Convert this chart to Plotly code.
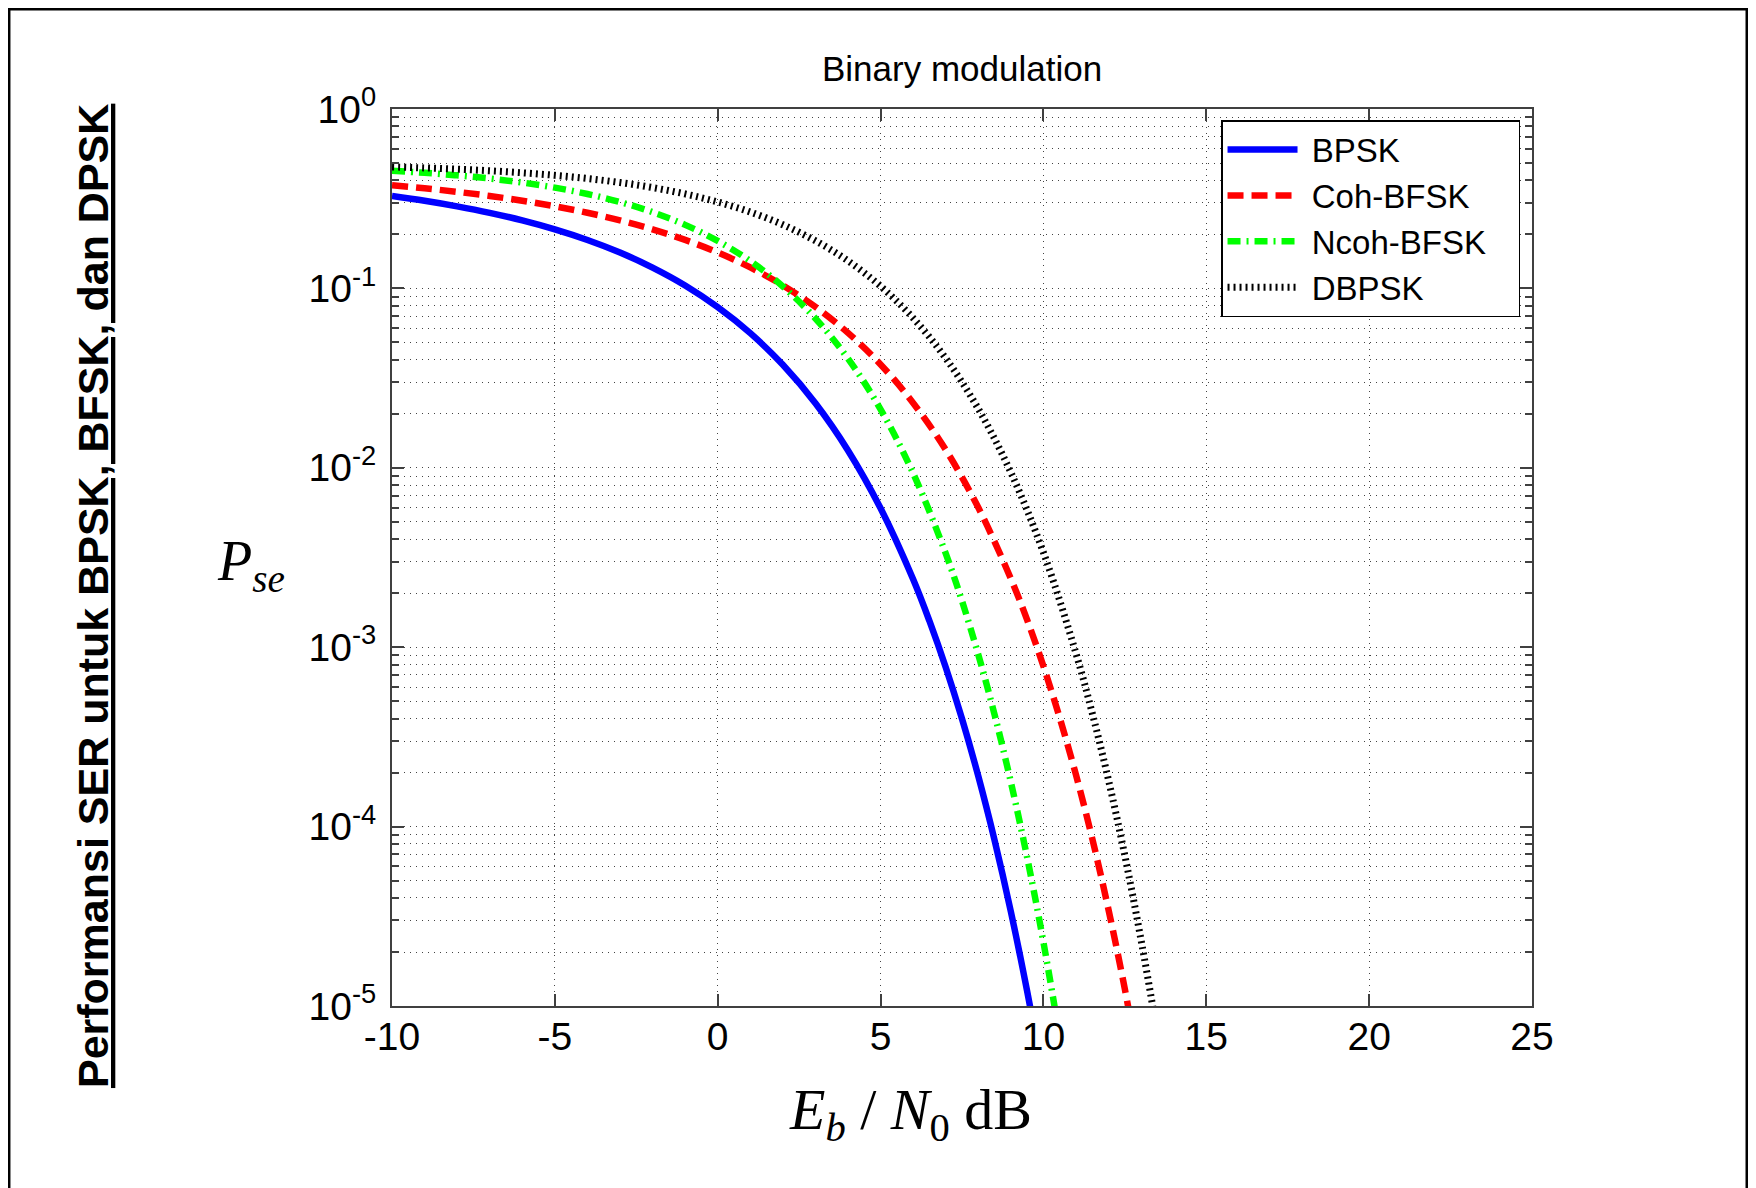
import plotly.graph_objects as go

# Eb/N0 (dB) and error probability
ebno_bpsk = [-10, -9, -8, -7, -6, -5, -4, -3, -2, -1, 0, 1, 2, 3, 4, 5, 6, 6.5, 7, 7.5, 8, 8.5, 9, 9.5, 10]
pse_bpsk = [0.3274, 0.3079, 0.2867, 0.2638, 0.2392, 0.2132, 0.1861, 0.1584, 0.1306, 0.1038, 0.0786,
            0.0563, 0.0375, 0.0229, 0.0125, 0.00595, 0.00239, 0.00140, 7.73e-4, 3.99e-4, 1.91e-4,
            8.40e-5, 3.36e-5, 1.21e-5, 3.87e-6]

ebno_coh = [-10, -9, -8, -7, -6, -5, -4, -3, -2, -1, 0, 1, 2, 3, 4, 5, 6, 7, 8, 9, 9.5, 10, 10.5, 11,
            11.5, 12, 12.5, 13]
pse_coh = [0.3759, 0.3614, 0.3453, 0.3276, 0.3081, 0.2869, 0.2640, 0.2395, 0.2135, 0.1864, 0.1587,
           0.1309, 0.1040, 0.0789, 0.0565, 0.0377, 0.0230, 0.0126, 0.0060, 0.00241, 0.00142, 7.83e-4,
           4.04e-4, 1.94e-4, 8.55e-5, 3.43e-5, 1.24e-5, 3.97e-6]

ebno_ncoh = [-10, -9, -8, -7, -6, -5, -4, -3, -2, -1, 0, 1, 2, 3, 4, 5, 6, 7, 7.5, 8, 8.5, 9, 9.5, 10, 10.5]
pse_ncoh = [0.4524, 0.4409, 0.4267, 0.4096, 0.3889, 0.3644, 0.3358, 0.3029, 0.2661, 0.2260, 0.1839,
            0.1420, 0.1025, 0.0680, 0.0406, 0.0212, 0.00933, 0.00333, 0.00181, 9.09e-4, 4.21e-4,
            1.77e-4, 6.73e-5, 2.27e-5, 6.7e-6]

ebno_dbpsk = [-10, -9, -8, -7, -6, -5, -4, -3, -2, -1, 0, 1, 2, 3, 4, 5, 6, 7, 8, 9, 10, 11, 11.5, 12,
              12.5, 13, 13.5, 14]
pse_dbpsk = [0.4756, 0.4695, 0.4619, 0.4525, 0.4410, 0.4269, 0.4098, 0.3892, 0.3647, 0.3361, 0.3033,
             0.2665, 0.2264, 0.1843, 0.1424, 0.1029, 0.0683, 0.0408, 0.02132, 0.00942, 0.00337,
             9.23e-4, 4.28e-4, 1.81e-4, 6.88e-5, 2.32e-5, 6.9e-6, 1.75e-6]

x_ticks = [-10, -5, 0, 5, 10, 15, 20, 25]
x_ticktext = ["-10", "-5", "0", "5", "10", "15", "20", "25"]
y_ticks = [1, 0.1, 0.01, 0.001, 1e-4, 1e-5]
y_ticktext = ["10<sup>0</sup>", "10<sup>-1</sup>", "10<sup>-2</sup>", "10<sup>-3</sup>",
              "10<sup>-4</sup>", "10<sup>-5</sup>"]

sans = "Arial, Liberation Sans, sans-serif"
serif = "Times New Roman, Liberation Serif, serif"
pad = "\u00a0"

fig = go.Figure()
fig.add_trace(go.Scatter(x=ebno_bpsk, y=pse_bpsk, mode="lines", name=pad + "BPSK" + pad * 3,
                         line=dict(color="#0000ff", width=6.5, shape="spline")))
fig.add_trace(go.Scatter(x=ebno_coh, y=pse_coh, mode="lines", name=pad + "Coh-BFSK" + pad * 3,
                         line=dict(color="#ff0000", width=6.5, dash="16px,8px", shape="spline")))
fig.add_trace(go.Scatter(x=ebno_ncoh, y=pse_ncoh, mode="lines", name=pad + "Ncoh-BFSK" + pad * 3,
                         line=dict(color="#00ff00", width=6.5, dash="13px,6px,2px,6px", shape="spline")))
fig.add_trace(go.Scatter(x=ebno_dbpsk, y=pse_dbpsk, mode="lines", name=pad + "DBPSK" + pad * 3,
                         line=dict(color="#000000", width=7, dash="2px,4px", shape="spline")))

grid = dict(gridcolor="#444444", gridwidth=1, griddash="1px,5px")

fig.update_xaxes(range=[-10, 25], tickmode="array", tickvals=x_ticks, ticktext=x_ticktext,
                 ticks="inside", ticklen=12, tickwidth=1.5,
                 tickcolor="#404040", showline=True, linecolor="#404040", linewidth=2,
                 mirror="allticks", showgrid=True, zeroline=False, ticklabelstandoff=-5,
                 tickfont=dict(family=sans, size=39, color="black"), **grid)
fig.update_yaxes(type="log", range=[-5, 0], tickmode="array", tickvals=y_ticks, ticktext=y_ticktext,
                 ticks="inside", ticklen=12, tickwidth=1.5, tickcolor="#404040", showline=True,
                 linecolor="#404040", linewidth=2, mirror="allticks", showgrid=True, zeroline=False,
                 ticklabelstandoff=6, tickfont=dict(family=sans, size=39, color="black"),
                 minor=dict(dtick="D1", ticks="inside", ticklen=7, tickcolor="#404040",
                            showgrid=True, **grid), **grid)

# the page body adds an 8px offset, margins compensate for it
fig.update_layout(
    width=1756, height=1188,
    margin=dict(l=384, r=232, t=101, b=190),
    paper_bgcolor="white", plot_bgcolor="white",
    showlegend=True,
    legend=dict(x=0.9895, y=0.9877, xanchor="right", yanchor="top", bgcolor="white",
                bordercolor="black", borderwidth=1.5, itemwidth=70,
                font=dict(family=sans, size=33, color="black")),
    shapes=[dict(type="rect", xref="paper", yref="paper", x0=-0.336, x1=1.1886, y0=-0.25, y1=1.1115,
                 line=dict(color="black", width=3))],
    annotations=[
        dict(text="Binary modulation", xref="paper", yref="paper", x=0.5, y=1.0446,
             xanchor="center", yanchor="middle", showarrow=False,
             font=dict(family=sans, size=35, color="black")),
        dict(text="<i>P<sub>se</sub></i>", xref="paper", yref="paper", x=-0.124, y=0.4916,
             xanchor="center", yanchor="middle", showarrow=False,
             font=dict(family=serif, size=56, color="black")),
        dict(text="<i>E<sub>b</sub></i> / <i>N</i><sub>0</sub> dB", xref="paper", yref="paper",
             x=0.4544, y=-0.1204, xanchor="center", yanchor="middle", showarrow=False,
             font=dict(family=serif, size=58, color="black")),
        dict(text="<u><b>Performansi SER untuk BPSK, BFSK, dan DPSK</b></u>", xref="paper",
             yref="paper", x=-0.2627, y=0.4565, xanchor="center", yanchor="middle",
             textangle=-90, showarrow=False, font=dict(family=sans, size=43, color="black")),
    ],
)

fig.write_html("out.html")
